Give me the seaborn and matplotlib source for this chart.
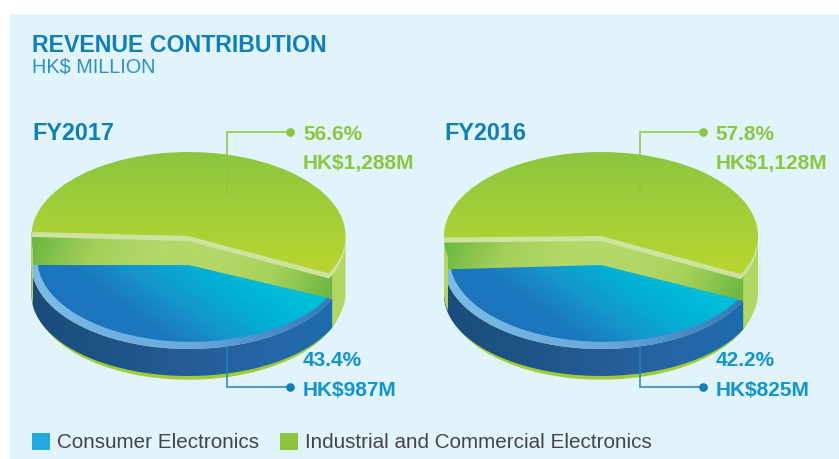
import numpy as np
import seaborn as sns
import matplotlib
matplotlib.use("Agg")
import matplotlib.pyplot as plt
from matplotlib.patches import Patch, PathPatch, Polygon, Rectangle
from matplotlib.path import Path

# data
years = ['FY2017', 'FY2016']
industrial_pct = [56.6, 57.8]
consumer_pct = [43.4, 42.2]
industrial_rev = ['HK$1,288M', 'HK$1,128M']
consumer_rev = ['HK$987M', 'HK$825M']
categories = ['Consumer Electronics', 'Industrial and Commercial Electronics']

W, H = 839, 459
RX, RY = 157, 84
TOP, BOTTOM = 140, 392
GREEN = '#8cc63f'
BLUE = '#0f7fbc'

sns.set_theme(style='white')
plt.rcParams['font.family'] = ['Liberation Sans', 'DejaVu Sans']

green_top = sns.blend_palette(['#8cc63f', '#a3cf38', '#b7d530'], as_cmap=True)
blue_top = sns.blend_palette(['#1b74bc', '#1b78be', '#1596cb', '#03aed4', '#00bdd9', '#00bdd9'], as_cmap=True)
blue_wall = sns.blend_palette(['#1a4c7b', '#1d5486', '#265c96', '#2566a6', '#1c6cb0'], as_cmap=True)
rim = sns.blend_palette(['#7dbce8', '#72b2e2', '#6aaadd', '#4c8ecb', '#2b74b8'], as_cmap=True)
faces = sns.blend_palette(['#6db943', '#a5d05a', '#b3d869', '#b3d869', '#a8d25a', '#6fb944'], as_cmap=True)


def py(y, cy0=236):
    return (cy0 - y) / RY


def slice_wedge(ax, first, second, start, cy, color, radius=1.0, dx=0.0, z=1):
    # pie draws both slices, only the first one is kept
    wedges, _ = ax.pie([first, second], startangle=start, radius=radius,
                       center=(dx, py(cy)), colors=[color, color])
    wedges[1].remove()
    wedges[0].set_zorder(z)
    wedges[0].set_linewidth(0)
    return wedges[0]


def arc(t1, t2, cy, ry):
    t = np.radians(np.linspace(t1, t2, 120))
    return np.column_stack([np.cos(t), py(cy) + ry / RY * np.sin(t)])


def band(ax, t1, t2, cy1, ry1, cy2, ry2, color, z):
    pts = np.vstack([arc(t1, t2, cy1, ry1), arc(t2, t1, cy2, ry2)])
    patch = PathPatch(Path(np.vstack([pts, pts[:1]])), fc=color, lw=0, zorder=z)
    ax.add_patch(patch)
    return patch


def paint(ax, clip, cmap, fn, z):
    xs = np.linspace(-1.1, 1.1, 400)
    ys = np.linspace(py(BOTTOM), py(TOP), 400)
    X, Y = np.meshgrid(xs, ys)
    im = ax.imshow(fn(X, Y), extent=(xs[0], xs[-1], ys[0], ys[-1]), origin='lower',
                   cmap=cmap, vmin=0, vmax=1, aspect='auto', zorder=z, interpolation='bilinear')
    im.set_clip_path(clip)


def blue_shade(X, Y):
    t = 0.6 + 0.52 * X + 0.38 * (Y - py(265))
    # faint diagonal streaks across the blue top
    for c in [-0.45, -0.25, 0.0]:
        t = t + 0.05 * np.exp(-(((X - c) + 0.9 * (Y - py(265))) / 0.012) ** 2)
    return np.clip(t, 0, 1)


fig = plt.figure(figsize=(W / 100, H / 100), dpi=100, facecolor='white')
bg = fig.add_axes([0, 0, 1, 1], zorder=0)
bg.set_xlim(0, W)
bg.set_ylim(H, 0)
bg.axis('off')
bg.add_patch(Rectangle((10, 14), W - 10, H - 14, fc='#e1f4fc', lw=0))

over = fig.add_axes([0, 0, 1, 1], zorder=2)
over.set_xlim(0, W)
over.set_ylim(H, 0)
over.axis('off')

green_starts = [-26.5, -27]
blue_starts = [180, 183]
centers = [188.5, 601]
left_strip = [0.008, 0.024]

for i, year in enumerate(years):
    cx = centers[i]
    off = cx - centers[0]
    g, b = industrial_pct[i], consumer_pct[i]
    ax = fig.add_axes([(cx - RX * 1.1) / W, 1 - BOTTOM / H, RX * 2.2 / W, (BOTTOM - TOP) / H], zorder=1)

    b1 = blue_starts[i]
    b2 = b1 + 360 * b / 100

    # base sliver and light green outer wall
    slice_wedge(ax, g + b, 0.0001, 0, 297, '#9fcd3a', radius=0.985, dx=0.0, z=1)
    outer = band(ax, -180, 0, 238, RY, 293, 81, '#b1d863', 2)

    # dark front wall of the blue slice
    wall = band(ax, b1, b2, 265, RY, 295, 81, 'none', 3)
    paint(ax, wall, blue_wall, lambda X, Y: (X + 1) / 2, 3)

    # rim and top of the blue slice
    rim_w = slice_wedge(ax, b, g, b1, 265, 'none', z=4)
    paint(ax, rim_w, rim, lambda X, Y: (X + 1) / 2, 4)
    top_w = slice_wedge(ax, b, g, b1, 259.5, 'none', radius=0.98, dx=0.018, z=5)
    paint(ax, top_w, blue_top, blue_shade, 5)

    # inner cut faces of the green slice
    tip_top, tip_bot = (0, py(236)), (0, py(265))
    pts = [arc(b1, b1, 232, RY)[0], tip_top, arc(b2, b2, 236, RY)[0],
           arc(b2, b2, 265, RY)[0], tip_bot, arc(b1, b1, 265, RY)[0]]
    face = Polygon(pts, closed=True, fc='none', lw=0, zorder=6)
    ax.add_patch(face)
    paint(ax, face, faces, lambda X, Y: np.clip((X + 1) / 2 - 0.12 * (Y - py(250)), 0, 1), 6)

    # pale strip at the far left where the cut stops short of the edge
    strip = Rectangle((-1.01, py(310)), 0.01 + left_strip[i], py(230) - py(310), fc='#b1d863', lw=0, zorder=6.5)
    ax.add_patch(strip)
    strip.set_clip_path(outer)

    # pale lip and green top
    slice_wedge(ax, g, b, green_starts[i], 241, '#cde4a0', z=7)
    top_g = slice_wedge(ax, g, b, green_starts[i], 236, 'none', z=8)
    paint(ax, top_g, green_top, lambda X, Y: np.clip((py(154) - Y) / (py(154) - py(270)), 0, 1), 8)

    ax.set_aspect('auto')
    ax.set_xlim(-1.1, 1.1)
    ax.set_ylim(py(BOTTOM), py(TOP))
    ax.axis('off')

    # labels and leaders
    over.text(32 + off, 134, year, color=BLUE, fontsize=16.8, fontweight='bold', va='center')
    over.plot([290 + off, 227 + off, 227 + off], [132, 132, 194], color=GREEN, lw=1.1, solid_joinstyle='miter')
    over.plot([290 + off], [132], 'o', color=GREEN, ms=5.2)
    over.plot([227 + off, 227 + off, 290 + off], [347, 387, 387], color='#1b84bf', lw=1.1, solid_joinstyle='miter')
    over.plot([290 + off], [387], 'o', color='#0f7fbc', ms=5.2)
    over.text(303 + off, 134, f'{g}%', color=GREEN, fontsize=15, fontweight='bold', va='center')
    over.text(303 + off, 163, industrial_rev[i], color=GREEN, fontsize=15, fontweight='bold', va='center')
    over.text(303 + off, 360, f'{b}%', color='#0f94d6', fontsize=15, fontweight='bold', va='center')
    over.text(303 + off, 390, consumer_rev[i], color='#0f94d6', fontsize=15, fontweight='bold', va='center')

over.text(32, 45.5, 'REVENUE CONTRIBUTION', color=BLUE, fontsize=16.7, fontweight='bold', va='center')
over.text(32, 67, 'HK$ MILLION', color='#2b8fc6', fontsize=14.3, va='center')

handles = [Patch(fc='#22a7e0', lw=0), Patch(fc=GREEN, lw=0)]
over.legend(handles, categories, ncol=2, frameon=False, loc='lower left',
            bbox_to_anchor=(32 / W, 1 - 452.5 / H), bbox_transform=fig.transFigure,
            fontsize=14.85, labelcolor='#444444', handlelength=0.88, handleheight=0.88,
            handletextpad=0.34, columnspacing=1.02, borderaxespad=0, borderpad=0)

fig.savefig('out.png', dpi=100, facecolor='white')
